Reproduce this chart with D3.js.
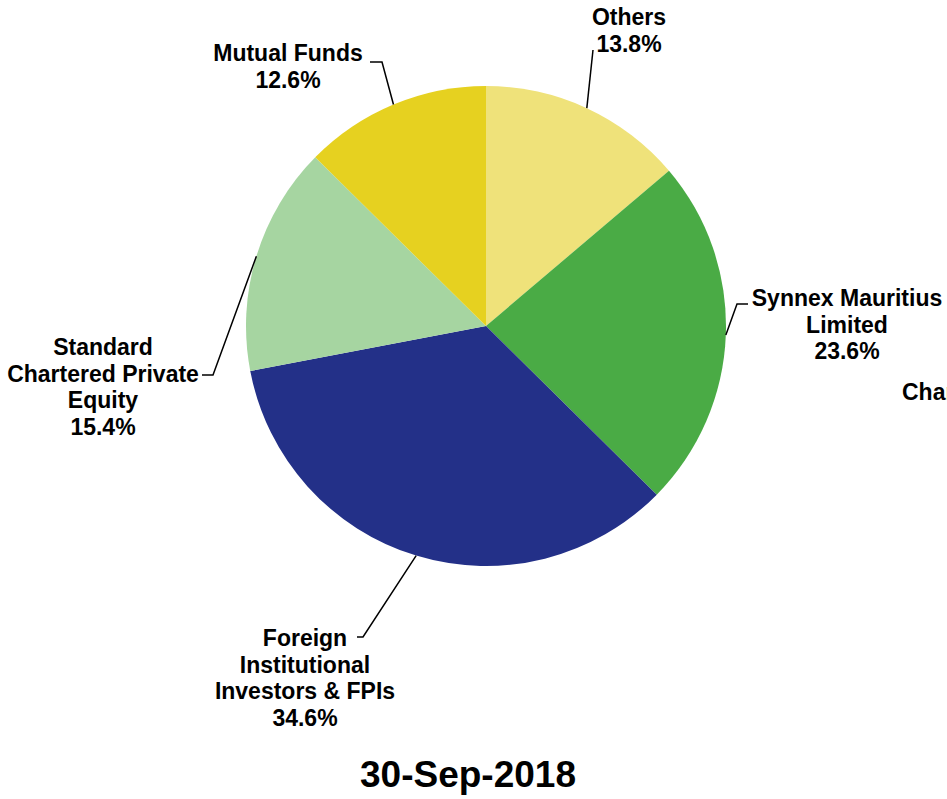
<!DOCTYPE html>
<html>
<head>
<meta charset="utf-8">
<script src="https://cdn.jsdelivr.net/npm/d3@7"></script>
<style>
  html, body { margin: 0; padding: 0; background: #fff; overflow: hidden; }
  text { font-family: "Liberation Sans", Arial, sans-serif; font-weight: bold; fill: #000; }
</style>
</head>
<body>
<div id="chart"></div>
<script>
// shareholding pattern, 30-Sep-2018
var categories = ["Others", "Synnex Mauritius Limited", "Foreign Institutional Investors & FPIs",
                  "Standard Chartered Private Equity", "Mutual Funds"];
var shares = [13.8, 23.6, 34.6, 15.4, 12.6];
var labelLines = [
    ["Others"],
    ["Synnex Mauritius", "Limited"],
    ["Foreign", "Institutional", "Investors & FPIs"],
    ["Standard", "Chartered Private", "Equity"],
    ["Mutual Funds"]
];
var colors = ["#efe27a", "#4aab45", "#233088", "#a6d5a1", "#e6d120"];
var title = "30-Sep-2018";

// label layout: text centre x, first baseline y, elbow point and end of horizontal tick
var labelLayout = [
    {x: 629, y: 25,  elbow: [593, 50],  tick: null},
    {x: 847, y: 306, elbow: [737, 304], tick: [748, 304]},
    {x: 305, y: 646, elbow: [363, 637], tick: [357, 637]},
    {x: 103, y: 355, elbow: [213, 375], tick: [202, 375]},
    {x: 288, y: 61,  elbow: [382, 62],  tick: [370, 62]}
];

var width = 947, height = 799;
var cx = 486, cy = 326, radius = 240;
var lineHeight = 26.5;

var svg = d3.select("#chart").append("svg")
    .attr("width", width)
    .attr("height", height);

var pie = d3.pie().sort(null).value(function(d) { return d; });
var arcs = pie(shares);

var arc = d3.arc().innerRadius(0).outerRadius(radius);
var edgeArc = d3.arc().innerRadius(radius).outerRadius(radius);

var g = svg.append("g")
    .attr("transform", "translate(" + cx + "," + cy + ")");

g.selectAll("path.slice")
    .data(arcs)
    .enter().append("path")
    .attr("class", "slice")
    .attr("d", arc)
    .attr("fill", function(d, i) { return colors[i]; });

// leader lines from the middle of each arc
svg.selectAll("path.leader")
    .data(arcs)
    .enter().append("path")
    .attr("class", "leader")
    .attr("fill", "none")
    .attr("stroke", "#000")
    .attr("stroke-width", 1.5)
    .attr("d", function(d, i) {
        var p = edgeArc.centroid(d);
        var lay = labelLayout[i];
        var s = "M" + (p[0] + cx) + "," + (p[1] + cy) + "L" + lay.elbow[0] + "," + lay.elbow[1];
        if (lay.tick) s += "L" + lay.tick[0] + "," + lay.tick[1];
        return s;
    });

// labels
var labels = svg.selectAll("text.label")
    .data(arcs)
    .enter().append("text")
    .attr("class", "label")
    .attr("text-anchor", "middle")
    .style("font-size", "23px");

labels.each(function(d, i) {
    var t = d3.select(this);
    var lay = labelLayout[i];
    var lines = labelLines[i].concat([d.data.toFixed(1) + "%"]);
    lines.forEach(function(line, j) {
        t.append("tspan")
            .attr("x", lay.x)
            .attr("y", lay.y + j * lineHeight)
            .text(line);
    });
});

// chart-area text that runs off the right edge, as in the original
svg.append("text")
    .attr("x", 902)
    .attr("y", 400)
    .style("font-size", "23px")
    .text("Chart Area");

svg.append("text")
    .attr("x", 468)
    .attr("y", 787)
    .attr("text-anchor", "middle")
    .style("font-size", "37px")
    .text(title);
</script>
</body>
</html>
